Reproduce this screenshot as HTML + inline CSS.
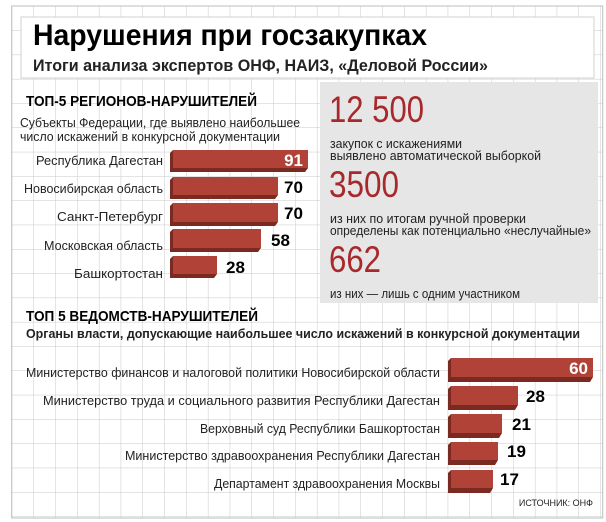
<!DOCTYPE html>
<html><head><meta charset="utf-8"><style>
html,body{margin:0;padding:0;background:#fff;}
svg{display:block;}
text{font-family:"Liberation Sans","DejaVu Sans",sans-serif;}
</style></head><body>
<svg width="606" height="522" viewBox="0 0 606 522" xmlns="http://www.w3.org/2000/svg">
<defs>
<pattern id="g" x="11.7" y="6" width="21.8" height="24.3" patternUnits="userSpaceOnUse">
<path d="M0 0H21.8M0 0V24.3" stroke="#c8c8c8" stroke-width="1" fill="none"/>
</pattern>
</defs>
<rect x="0" y="0" width="606" height="522" fill="#fff"/>
<rect x="11.7" y="6" width="591" height="512" fill="url(#g)" stroke="#bdbdbd"/>
<rect x="21" y="17" width="573" height="61" fill="#fff" stroke="#d0d0d0"/>
<rect x="320" y="82" width="278" height="221" fill="#e6e6e6"/>

<text x="33" y="45" font-size="30" font-weight="bold" textLength="394" lengthAdjust="spacingAndGlyphs">Нарушения при госзакупках</text>
<text x="33" y="71" font-size="17" font-weight="bold" fill="#222" textLength="455" lengthAdjust="spacingAndGlyphs">Итоги анализа экспертов ОНФ, НАИЗ, «Деловой России»</text>

<text x="26" y="106" font-size="15" font-weight="bold" textLength="231" lengthAdjust="spacingAndGlyphs">ТОП-5 РЕГИОНОВ-НАРУШИТЕЛЕЙ</text>
<text x="20" y="127" font-size="13" fill="#222" textLength="280" lengthAdjust="spacingAndGlyphs">Субъекты Федерации, где выявлено наибольшее</text>
<text x="20" y="141" font-size="13" fill="#222" textLength="260" lengthAdjust="spacingAndGlyphs">число искажений в конкурсной документации</text>

<g font-size="13" fill="#222" text-anchor="end">
<text x="163" y="165" textLength="127" lengthAdjust="spacingAndGlyphs">Республика Дагестан</text>
<text x="163" y="193" textLength="139" lengthAdjust="spacingAndGlyphs">Новосибирская область</text>
<text x="163" y="221" textLength="106" lengthAdjust="spacingAndGlyphs">Санкт-Петербург</text>
<text x="163" y="250" textLength="119" lengthAdjust="spacingAndGlyphs">Московская область</text>
<text x="163" y="278" textLength="89" lengthAdjust="spacingAndGlyphs">Башкортостан</text>
</g>

<g fill="#7b2a22">
<path d="M170 153 L173 150 L308 150 L308 168 L305 172 L170 172Z"/>
<path d="M170 180 L173 177 L278 177 L278 195 L275 199 L170 199Z"/>
<path d="M170 206 L173 203 L278 203 L278 222 L275 226 L170 226Z"/>
<path d="M170 232 L173 229 L261 229 L261 248 L258 252 L170 252Z"/>
<path d="M170 259 L173 256 L217 256 L217 274 L214 278 L170 278Z"/>
</g>
<g fill="#b04238">
<rect x="173" y="150" width="135" height="18"/>
<rect x="173" y="177" width="105" height="18"/>
<rect x="173" y="203" width="105" height="19"/>
<rect x="173" y="229" width="88" height="19"/>
<rect x="173" y="256" width="44" height="18"/>
</g>
<g font-size="17" font-weight="bold">
<text x="303" y="166" fill="#fff" text-anchor="end">91</text>
<text x="284" y="193">70</text>
<text x="284" y="219">70</text>
<text x="271" y="246">58</text>
<text x="226" y="273">28</text>
</g>

<g fill="#a8282c" font-size="37">
<text x="329" y="122" textLength="95" lengthAdjust="spacingAndGlyphs">12 500</text>
<text x="329" y="197" textLength="70" lengthAdjust="spacingAndGlyphs">3500</text>
<text x="329" y="272" textLength="52" lengthAdjust="spacingAndGlyphs">662</text>
</g>
<g font-size="12.5" fill="#222">
<text x="330" y="148" textLength="132" lengthAdjust="spacingAndGlyphs">закупок с искажениями</text>
<text x="330" y="160" textLength="211" lengthAdjust="spacingAndGlyphs">выявлено автоматической выборкой</text>
<text x="330" y="223" textLength="196" lengthAdjust="spacingAndGlyphs">из них по итогам ручной проверки</text>
<text x="330" y="235" textLength="261" lengthAdjust="spacingAndGlyphs">определены как потенциально «неслучайные»</text>
<text x="330" y="298" textLength="190" lengthAdjust="spacingAndGlyphs">из них — лишь с одним участником</text>
</g>

<text x="26" y="321" font-size="15" font-weight="bold" textLength="232" lengthAdjust="spacingAndGlyphs">ТОП 5 ВЕДОМСТВ-НАРУШИТЕЛЕЙ</text>
<text x="26" y="338" font-size="13" font-weight="bold" fill="#222" textLength="554" lengthAdjust="spacingAndGlyphs">Органы власти, допускающие наибольшее число искажений в конкурсной документации</text>

<g font-size="13" fill="#222" text-anchor="end">
<text x="440" y="377" textLength="414" lengthAdjust="spacingAndGlyphs">Министерство финансов и налоговой политики Новосибирской области</text>
<text x="440" y="405" textLength="397" lengthAdjust="spacingAndGlyphs">Министерство труда и социального развития Республики Дагестан</text>
<text x="440" y="433" textLength="240" lengthAdjust="spacingAndGlyphs">Верховный суд Республики Башкортостан</text>
<text x="440" y="460" textLength="315" lengthAdjust="spacingAndGlyphs">Министерство здравоохранения Республики Дагестан</text>
<text x="440" y="488" textLength="226" lengthAdjust="spacingAndGlyphs">Департамент здравоохранения Москвы</text>
</g>
<g fill="#7b2a22">
<path d="M448 361 L451 358 L593 358 L593 377 L590 382 L448 382Z"/>
<path d="M448 389 L451 386 L518 386 L518 405 L515 410 L448 410Z"/>
<path d="M448 417 L451 414 L502 414 L502 433 L499 438 L448 438Z"/>
<path d="M448 445 L451 442 L498 442 L498 460 L495 465 L448 465Z"/>
<path d="M448 473 L451 470 L493 470 L493 488 L490 493 L448 493Z"/>
</g>
<g fill="#b04238">
<rect x="451" y="358" width="142" height="19"/>
<rect x="451" y="386" width="67" height="19"/>
<rect x="451" y="414" width="51" height="19"/>
<rect x="451" y="442" width="47" height="18"/>
<rect x="451" y="470" width="42" height="18"/>
</g>
<g font-size="17" font-weight="bold">
<text x="588" y="374" fill="#fff" text-anchor="end">60</text>
<text x="526" y="402">28</text>
<text x="512" y="430">21</text>
<text x="507" y="457">19</text>
<text x="500" y="485">17</text>
</g>
<text x="593" y="506" font-size="9" text-anchor="end" fill="#222">ИСТОЧНИК: ОНФ</text>
</svg>
</body></html>
